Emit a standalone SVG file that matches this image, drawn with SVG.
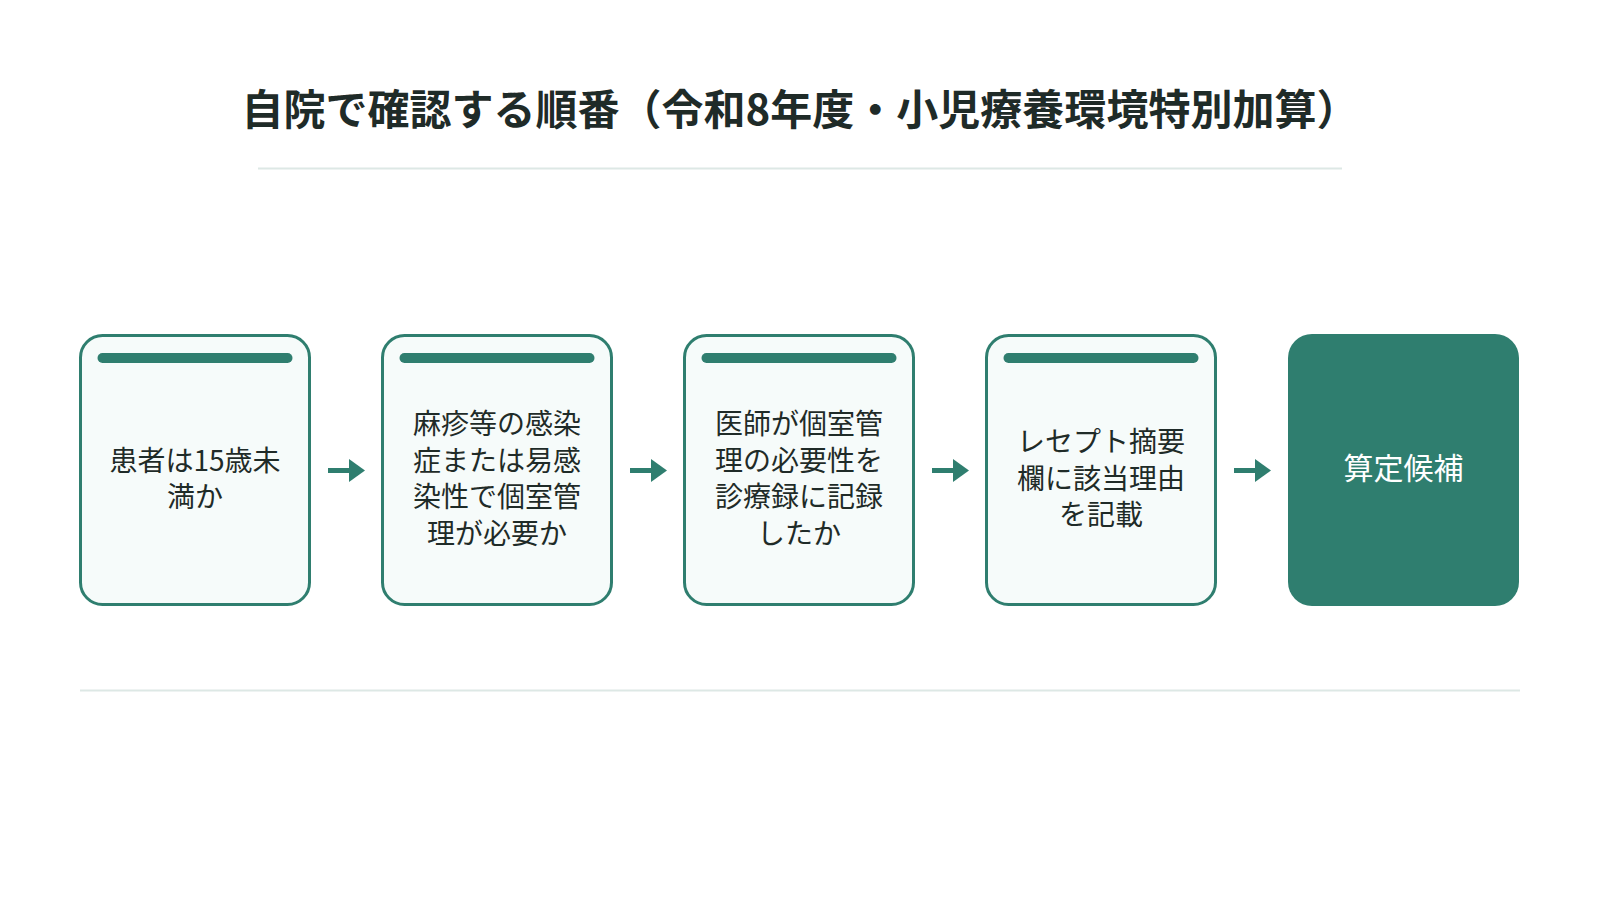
<svg xmlns="http://www.w3.org/2000/svg" width="1600" height="900" viewBox="0 0 1600 900">
  <defs>
    <style>
      .title { font-family: "Noto Sans CJK JP", "Noto Sans", sans-serif; font-size: 42px; font-weight: 700; fill: #1f2b28; }
      .step { fill: #f6fbfa; stroke: #2f7e6f; stroke-width: 3; }
      .bar { fill: #2f7e6f; }
      .final { fill: #2f7e6f; }
      .label { font-family: "Noto Sans CJK JP", "Noto Sans", sans-serif; font-size: 28px; font-weight: 400; fill: #1f2b28; text-anchor: middle; }
      .flabel { font-family: "Noto Sans CJK JP", "Noto Sans", sans-serif; font-size: 30px; font-weight: 400; fill: #ffffff; text-anchor: middle; }
      .rule { stroke: #dde8e5; stroke-width: 2; }
      .conn-line { stroke: #2f7e6f; stroke-width: 5; }
      .conn-head { fill: #2f7e6f; }
    </style>
  </defs>
  <rect width="1600" height="900" fill="#ffffff"/>

  <g id="title">
    <text class="title" x="800" y="125" text-anchor="middle">自院で確認する順番（令和8年度・小児療養環境特別加算）</text>
    <line class="rule" x1="258" y1="168.5" x2="1342" y2="168.5"/>
  </g>

  <g id="step1">
    <rect class="step" x="80.5" y="335.5" width="229" height="269" rx="22"/>
    <rect class="bar" x="97.5" y="353" width="195" height="10" rx="5"/>
    <text class="label" x="195" y="470.5">患者は15歳未</text>
    <text class="label" x="195" y="507">満か</text>
  </g>

  <g id="step2">
    <rect class="step" x="382.5" y="335.5" width="229" height="269" rx="22"/>
    <rect class="bar" x="399.5" y="353" width="195" height="10" rx="5"/>
    <text class="label" x="497" y="434">麻疹等の感染</text>
    <text class="label" x="497" y="470.5">症または易感</text>
    <text class="label" x="497" y="507">染性で個室管</text>
    <text class="label" x="497" y="543.5">理が必要か</text>
  </g>

  <g id="step3">
    <rect class="step" x="684.5" y="335.5" width="229" height="269" rx="22"/>
    <rect class="bar" x="701.5" y="353" width="195" height="10" rx="5"/>
    <text class="label" x="799" y="434">医師が個室管</text>
    <text class="label" x="799" y="470.5">理の必要性を</text>
    <text class="label" x="799" y="507">診療録に記録</text>
    <text class="label" x="799" y="543.5">したか</text>
  </g>

  <g id="step4">
    <rect class="step" x="986.5" y="335.5" width="229" height="269" rx="22"/>
    <rect class="bar" x="1003.5" y="353" width="195" height="10" rx="5"/>
    <text class="label" x="1101" y="452">レセプト摘要</text>
    <text class="label" x="1101" y="488.5">欄に該当理由</text>
    <text class="label" x="1101" y="525">を記載</text>
  </g>

  <g id="result">
    <rect class="final" x="1288" y="334" width="231" height="272" rx="24"/>
    <text class="flabel" x="1403.5" y="479">算定候補</text>
  </g>

  <g id="connectors">
    <line class="conn-line" x1="328" y1="470.5" x2="350" y2="470.5"/>
    <polygon class="conn-head" points="349,459 365,470.5 349,482"/>
    <line class="conn-line" x1="630" y1="470.5" x2="652" y2="470.5"/>
    <polygon class="conn-head" points="651,459 667,470.5 651,482"/>
    <line class="conn-line" x1="932" y1="470.5" x2="954" y2="470.5"/>
    <polygon class="conn-head" points="953,459 969,470.5 953,482"/>
    <line class="conn-line" x1="1234" y1="470.5" x2="1256" y2="470.5"/>
    <polygon class="conn-head" points="1255,459 1271,470.5 1255,482"/>
  </g>

  <g id="footer-rule">
    <line class="rule" x1="80" y1="690.5" x2="1520" y2="690.5"/>
  </g>
</svg>
